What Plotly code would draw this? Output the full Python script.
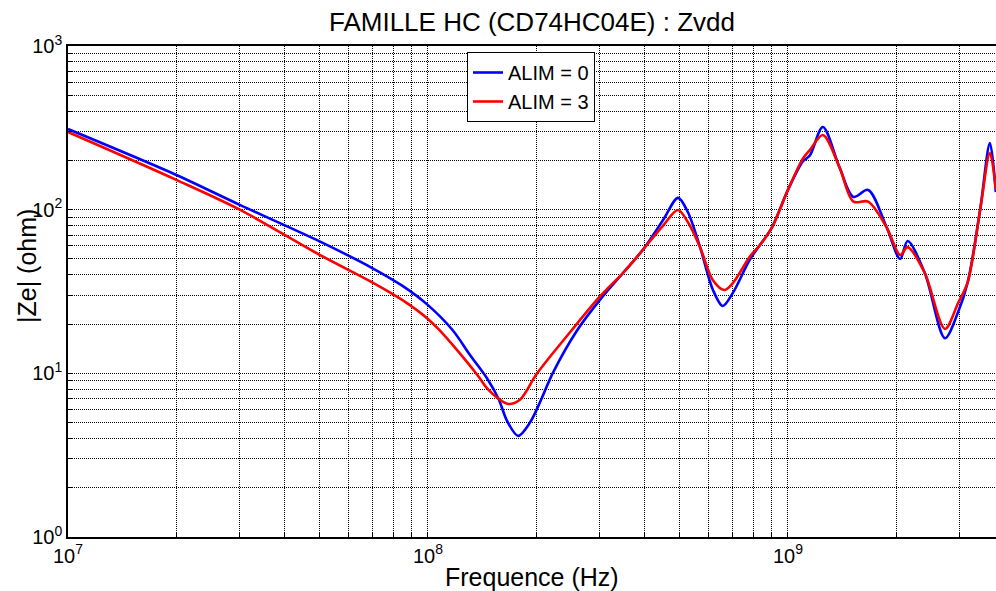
import plotly.graph_objects as go

# ALIM = 0 (blue)
freq_alim0 = [1.0e7, 2.0e7, 3.0e7, 5.0e7, 7.0e7, 8.5e7, 1.0e8, 1.17e8, 1.31e8, 1.46e8,
              1.57e8, 1.66e8, 1.78e8, 1.92e8, 2.05e8, 2.22e8, 2.6e8, 3.0e8, 3.5e8, 3.95e8,
              4.5e8, 4.95e8, 5.27e8, 5.7e8, 6.19e8, 6.59e8, 7.03e8, 7.83e8, 8.36e8, 9.03e8,
              1.0e9, 1.1e9, 1.15e9, 1.25e9, 1.39e9, 1.52e9, 1.67e9, 1.88e9, 2.05e9, 2.15e9,
              2.4e9, 2.73e9, 2.97e9, 3.16e9, 3.42e9, 3.64e9, 3.78e9]
z_alim0 = [311, 163, 107, 64, 44, 34.2, 26.1, 18.4, 12.9, 9.3,
           7.0, 5.1, 4.15, 5.0, 6.7, 10, 18.4, 28, 41.6, 56.7,
           86.5, 118, 96.8, 59, 32.3, 25.8, 31, 49.4, 60.8, 78,
           132, 197, 214, 320, 182, 119.6, 132, 78, 50, 64.4,
           41, 16.4, 23.7, 36.2, 100, 255, 128]

# ALIM = 3 (red)
freq_alim3 = [1.0e7, 2.0e7, 3.0e7, 5.0e7, 7.0e7, 8.5e7, 1.0e8, 1.07e8, 1.2e8, 1.38e8,
              1.46e8, 1.57e8, 1.67e8, 1.80e8, 2.01e8, 2.51e8, 3.0e8, 3.5e8, 3.95e8, 4.5e8,
              4.95e8, 5.27e8, 5.7e8, 6.19e8, 6.65e8, 7.03e8, 7.83e8, 8.36e8, 9.03e8, 1.0e9,
              1.1e9, 1.15e9, 1.25e9, 1.39e9, 1.52e9, 1.67e9, 1.88e9, 2.05e9, 2.15e9, 2.4e9,
              2.73e9, 2.97e9, 3.16e9, 3.42e9, 3.64e9, 3.78e9]
z_alim3 = [298, 152, 100, 53, 36, 28, 21.5, 18.6, 14, 9.6,
           8.1, 7.0, 6.5, 6.9, 10, 18.4, 29.4, 41.6, 56.7, 80,
           99.5, 84, 59, 37, 32.3, 35.6, 51.5, 60.8, 78, 132,
           205, 231, 286, 182, 112, 112, 78, 52.8, 59, 41,
           18.7, 26.9, 36.2, 100, 222, 132]

x_decades = [7, 8, 9]
y_decades = [0, 1, 2, 3]

def log_ticks(decades, upto):
    vals, texts = [], []
    for d in decades:
        for m in range(1, 10):
            v = m * 10 ** d
            if v > upto:
                break
            vals.append(v)
            texts.append(f"10<sup>{d}</sup>" if m == 1 else " ")
    return vals, texts

xt_vals, xt_text = log_ticks(x_decades, 3.8e9)
yt_vals, yt_text = log_ticks(y_decades, 1000)

FONT = "Liberation Sans, Arial, Helvetica, sans-serif"
W, H = 996, 591
ML, MR, MT, MB = 68, 0, 46, 54
PW, PH = W - ML - MR, H - MT - MB

fig = go.Figure()
fig.add_trace(go.Scatter(x=freq_alim0, y=z_alim0, mode="lines", name="ALIM = 0",
                         line=dict(color="#0000ff", width=2.6, shape="spline", smoothing=0.9)))
fig.add_trace(go.Scatter(x=freq_alim3, y=z_alim3, mode="lines", name="ALIM = 3",
                         line=dict(color="#ff0000", width=2.6, shape="spline", smoothing=0.9)))

fig.update_layout(
    width=W, height=H,
    margin=dict(l=ML, r=MR, t=MT, b=MB, autoexpand=False),
    paper_bgcolor="white", plot_bgcolor="white",
    font=dict(family=FONT, color="black", size=20),
    title=dict(text="FAMILLE HC (CD74HC04E) : Zvdd", x=532 / W, xanchor="center",
               y=1 - 22 / H, yanchor="middle", font=dict(size=26)),
    legend=dict(x=(467 - ML) / PW, y=1 - (52 - MT) / PH,
                xanchor="left", yanchor="top",
                bgcolor="white", bordercolor="black", borderwidth=1,
                font=dict(size=20), tracegroupgap=0, itemwidth=30),
    showlegend=True,
    annotations=[
        dict(text="Frequence (Hz)", xref="paper", yref="paper",
             x=0.5, y=-(577 - (H - MB)) / PH, xanchor="center", yanchor="middle",
             showarrow=False, font=dict(size=25)),
        dict(text="|Ze| (ohm)", xref="paper", yref="paper", textangle=-90,
             x=-(ML - 27) / PW, y=1 - (266 - MT) / PH,
             xanchor="center", yanchor="middle",
             showarrow=False, font=dict(size=25)),
    ],
)
fig.update_xaxes(
    type="log", range=[7, 9.578], automargin=False,
    tickvals=xt_vals, ticktext=xt_text, tickangle=0,
    showgrid=True, gridcolor="black", griddash="1px,1px", gridwidth=1,
    showline=True, linecolor="black", linewidth=1.5, mirror=True,
    ticks="inside", ticklen=4, tickcolor="black", tickfont=dict(size=20),
    zeroline=False,
)
fig.update_yaxes(
    type="log", range=[0, 3], automargin=False,
    tickvals=yt_vals, ticktext=yt_text,
    showgrid=True, gridcolor="black", griddash="1px,1px", gridwidth=1,
    showline=True, linecolor="black", linewidth=1.5, mirror=False,
    ticks="inside", ticklen=4, tickcolor="black", tickfont=dict(size=20),
    zeroline=False,
)

fig.write_html("out.html", config={"displayModeBar": False},
               post_script="document.body.style.margin='0';document.body.style.overflow='hidden';")
